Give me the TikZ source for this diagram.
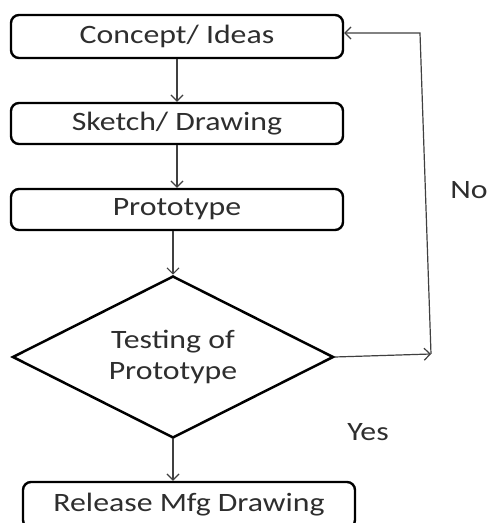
\documentclass[tikz,border=0pt]{standalone}
\usepackage{fontspec}
\setmainfont{Carlito}[FakeStretch=1.2]
\usetikzlibrary{shapes.geometric,arrows.meta}
\begin{document}
\begin{tikzpicture}[x=1pt,y=1pt,
  stepbox/.style={draw=black, line width=2.4pt, rounded corners=8pt, minimum width=332pt, inner sep=0pt, font=\fontsize{26.5}{31}\selectfont, text=black!82},
  decision/.style={diamond, draw=black, line width=2.5pt, minimum width=321pt, minimum height=162pt, aspect=1.98, inner sep=0pt, align=center, font=\fontsize{26.5}{31}\selectfont, text=black!82},
  conn/.style={draw=black!75, line width=1.2pt, -{Straight Barb[length=6pt,width=12pt]}},
  lbl/.style={font=\fontsize{26.5}{31}\selectfont, text=black!82}]
\useasboundingbox (0,0) rectangle (487,523);
\clip (0,0) rectangle (487,523);
\fill[white] (0,0) rectangle (487,523);
\node[stepbox, minimum height=43pt] (a) at (177,486.5) {Concept/ Ideas};
\node[stepbox, minimum height=41pt] (b) at (177,399.5) {Sketch/ Drawing};
\node[stepbox, minimum height=41pt] (c) at (177,313.5) {Prototype};
\node[decision] (d) at (173,166) {Testing of\\Prototype};
\node[stepbox, minimum height=46pt] (e) at (189,18) {Release Mfg Drawing};
\node[lbl] (no) at (469,333) {No};
\node[lbl] (yes) at (368,91) {Yes};
\coordinate (c1) at (431,169);
\coordinate (c2) at (420,490);
\draw[conn] (a) -- (b);
\draw[conn] (b) -- (c);
\draw[conn] (c.south -| d.north) -- (d.north);
\draw[conn] (d.south) -- (d.south |- e.north);
\draw[conn] (d.east) -- (c1);
\draw[conn] (c1) -- (c2) -- (c2 -| a.east);
\end{tikzpicture}
\end{document}
